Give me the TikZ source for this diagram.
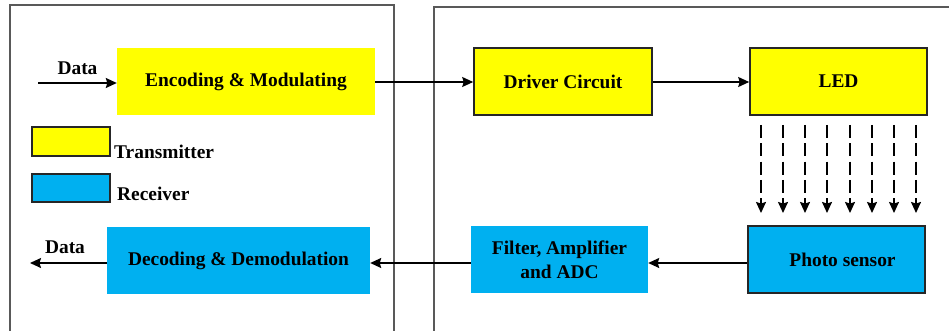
\documentclass[tikz,border=0pt]{standalone}
\usepackage{fontspec}
\setmainfont{Liberation Serif}
\usetikzlibrary{arrows.meta}
\definecolor{txyellow}{HTML}{FFFF00}
\definecolor{rxblue}{HTML}{00B0F0}
\begin{document}
\begin{tikzpicture}[x=1pt,y=-1pt,
  font=\fontsize{19.4}{24}\selectfont\bfseries,
  frame/.style={draw=black!65,line width=1.1pt},
  blk/.style={minimum width=#1,minimum height=67pt,inner sep=0pt,align=center},
  txbox/.style={fill=txyellow},
  rxbox/.style={fill=rxblue},
  edged/.style={draw=black!85,line width=1.6pt},
  flow/.style={line width=1.4pt,-{Stealth[length=11pt,width=10pt,inset=1.5pt]}},
  ray/.style={line width=1.5pt,dash pattern=on 13pt off 5.3pt,-{Stealth[length=11pt,width=10pt,inset=1.5pt]}},
  lbl/.style={inner sep=0pt}]
\useasboundingbox (0,0) rectangle (949,331);

% enclosing frames of the two units
\draw[frame] (10,331) -- (10,5) -- (394,5) -- (394,331);
\draw[frame] (434,331) -- (434,7) -- (949,7);

% transmitter chain
\node[blk=258pt,txbox] (enc) at (246,81.5) {Encoding \& Modulating};
\node[blk=178pt,txbox,edged] (drv) at (563,81.5) {Driver Circuit};
\node[blk=177pt,txbox,edged] (led) at (838.5,81.5) {LED};

% receiver chain
\node[blk=177pt,rxbox,edged] (ps) at (836.5,259.5) {\hspace*{12pt}Photo sensor};
\node[blk=177pt,rxbox] (flt) at (559.5,259.5) {Filter, Amplifier\\and ADC};
\node[blk=263pt,rxbox] (dec) at (238.5,260.5) {Decoding \& Demodulation};

% legend
\node[minimum width=78pt,minimum height=29pt,inner sep=0pt,txbox,edged] (legtx) at (71,141.5) {};
\node[lbl,anchor=west] (legtxt) at (114,152) {Transmitter};
\node[minimum width=78pt,minimum height=28pt,inner sep=0pt,rxbox,edged] (legrx) at (71,188) {};
\node[lbl,anchor=west] (legrxt) at (117,194) {Receiver};

% data in / out
\coordinate (din) at (38,83);
\coordinate (dout) at (30,263);
\node[lbl] (dinl) at (77.5,68) {Data};
\node[lbl] (doutl) at (65,247) {Data};
\draw[flow] (din) -- (enc.west |- din);
\draw[flow] (dec.west |- dout) -- (dout);

% signal flow
\draw[flow] (enc.east |- 0,82) -- (drv.west |- 0,82);
\draw[flow] (drv.east |- 0,82) -- (led.west |- 0,82);
\draw[flow] (ps.west |- 0,263) -- (flt.east |- 0,263);
\draw[flow] (flt.west |- 0,263) -- (dec.east |- 0,263);

% optical rays from the LED to the photo sensor
\foreach \x [count=\i] in {761,783,805,827,850,872,894,916}{
  \coordinate (rs\i) at (\x,125);
  \coordinate (re\i) at (\x,213);
  \draw[ray] (rs\i) -- (re\i);
}
\end{tikzpicture}
\end{document}
